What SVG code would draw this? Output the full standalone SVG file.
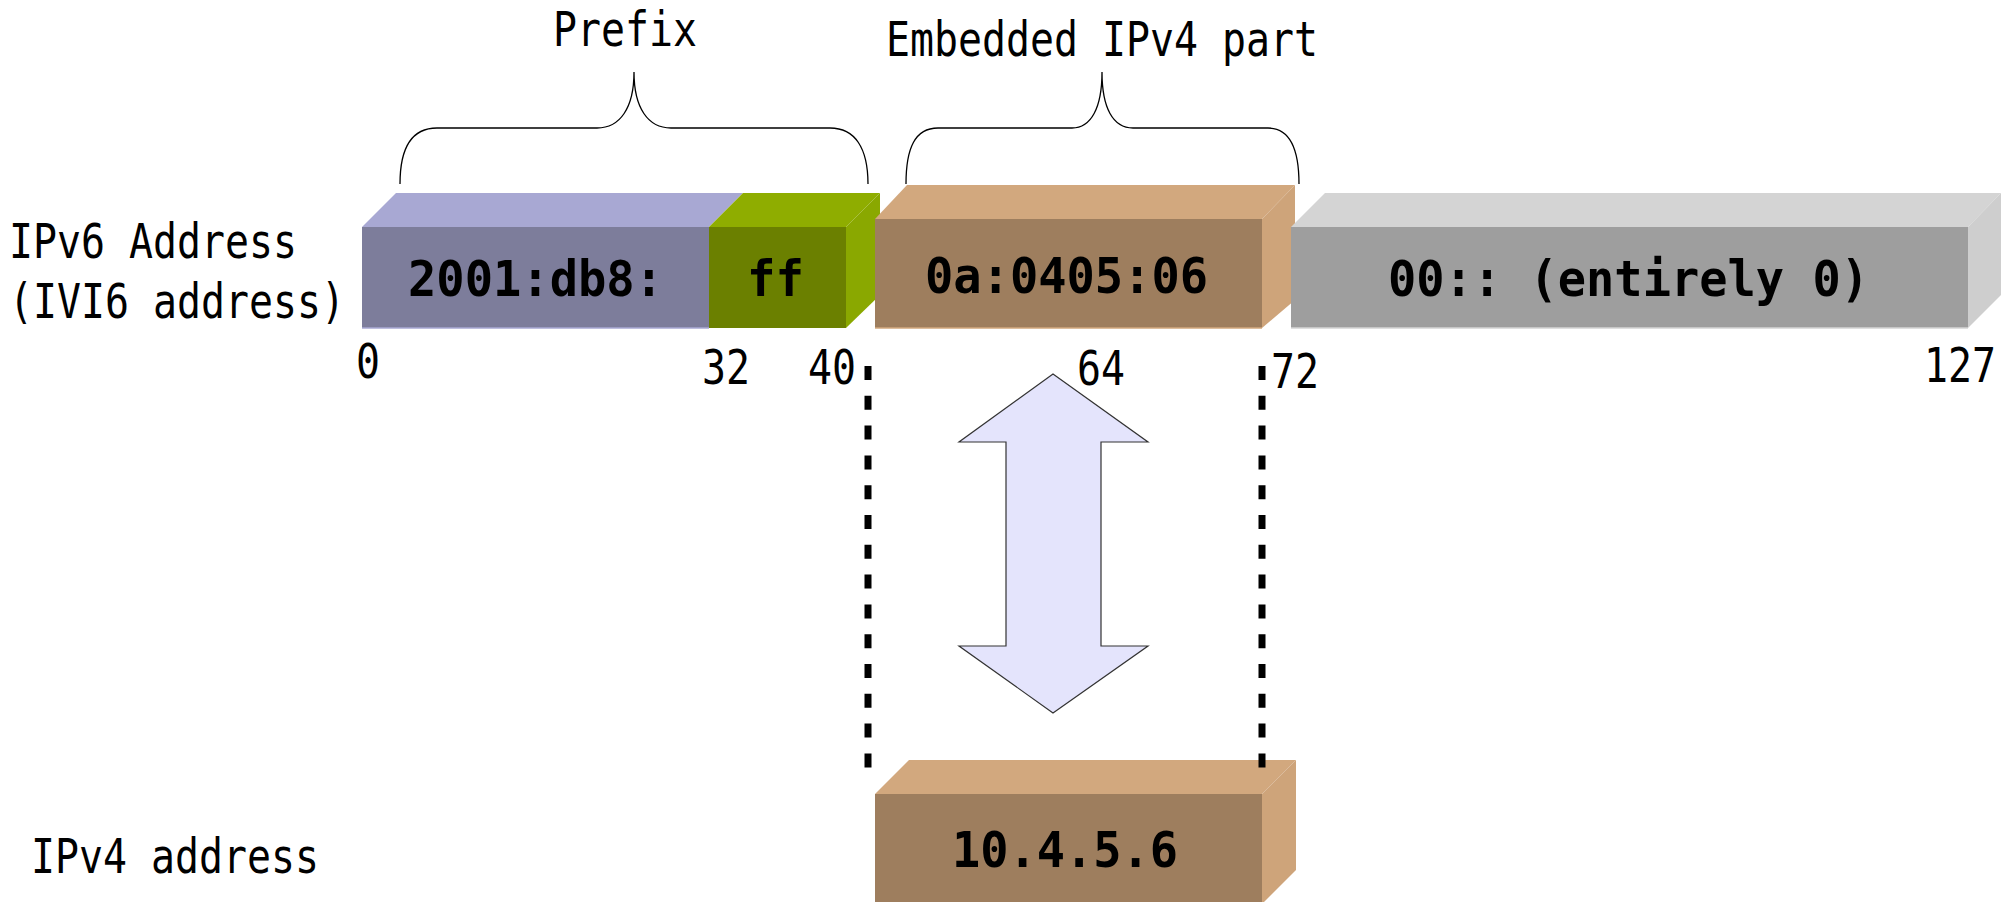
<svg xmlns="http://www.w3.org/2000/svg" width="2016" height="902" viewBox="0 0 2016 902">
  <style>
    .lbl { font-family: "DejaVu Sans Mono", "Liberation Mono", monospace; font-size: 48px; fill: #000; }
    .val { font-family: "DejaVu Sans Mono", "Liberation Mono", monospace; font-size: 50px; font-weight: bold; fill: #000; }
    .brace { fill: none; stroke: #000; stroke-width: 1.3; }
    .dash { stroke: #000; stroke-width: 7; stroke-dasharray: 14 15.8; fill: none; }
    .arrow { fill: #e4e4fc; stroke: #333; stroke-width: 1.2; stroke-linejoin: miter; }
    .pu-front { fill: #7d7d9b; } .pu-top { fill: #a8a8d3; }
    .gr-front { fill: #6b8000; } .gr-top { fill: #8fad00; } .gr-side { fill: #8aa800; }
    .br-front { fill: #9e7e5e; } .br-top { fill: #d2a87e; } .br-side { fill: #cea47a; }
    .gy-front { fill: #9e9e9e; } .gy-top { fill: #d4d4d4; } .gy-side { fill: #cecece; }
    .edge-pu { stroke: #a8a8d3; stroke-width: 1.5; }
    .edge-gy { stroke: #d4d4d4; stroke-width: 1.5; }
    .edge-br { stroke: #d2a87e; stroke-width: 1.5; }
  </style>
  <rect width="2016" height="902" fill="#fff"/>

  <!-- row labels -->
  <g id="label-ipv6">
    <text class="lbl" x="9" y="258" textLength="288" lengthAdjust="spacingAndGlyphs">IPv6 Address</text>
    <text class="lbl" x="9" y="318" textLength="336" lengthAdjust="spacingAndGlyphs">(IVI6 address)</text>
  </g>
  <g id="label-ipv4">
    <text class="lbl" x="31" y="873" textLength="288" lengthAdjust="spacingAndGlyphs">IPv4 address</text>
  </g>

  <!-- braces with captions -->
  <g id="prefix-brace">
    <path class="brace" d="M400,184 C400,148 412,128 437,128 L597,128 C620,128 634,108 634,72 C634,108 648,128 671,128 L830,128 C855,128 868,148 868,184"/>
    <text class="lbl" x="553" y="46" textLength="144" lengthAdjust="spacingAndGlyphs">Prefix</text>
  </g>
  <g id="embedded-brace">
    <path class="brace" d="M906,184 C906,148 915,128 938,128 L1072,128 C1091,128 1102,108 1102,72 C1102,108 1113,128 1133,128 L1268,128 C1290,128 1299,148 1299,184"/>
    <text class="lbl" x="886" y="56" textLength="432" lengthAdjust="spacingAndGlyphs">Embedded IPv4 part</text>
  </g>

  <!-- IPv6 address segments -->
  <g id="seg-prefix">
    <polygon class="pu-top" points="362,227 396,193 743,193 709,227"/>
    <rect class="pu-front" x="362" y="227" width="347" height="101"/>
    <line class="edge-pu" x1="362" y1="328" x2="709" y2="328"/>
    <text class="val" x="408" y="296" textLength="255" lengthAdjust="spacingAndGlyphs">2001:db8:</text>
  </g>
  <g id="seg-ff">
    <polygon class="gr-top" points="709,227 743,193 880,193 846,227"/>
    <polygon class="gr-side" points="846,227 880,193 880,295 846,328"/>
    <rect class="gr-front" x="709" y="227" width="137" height="101"/>
    <text class="val" x="747" y="296" textLength="57" lengthAdjust="spacingAndGlyphs">ff</text>
  </g>
  <g id="seg-embedded">
    <polygon class="br-top" points="875,219 907,185 1295,185 1262,219"/>
    <polygon class="br-side" points="1262,219 1295,185 1295,300 1262,328"/>
    <rect class="br-front" x="875" y="219" width="387" height="109"/>
    <line class="edge-br" x1="875" y1="328" x2="1262" y2="328"/>
    <text class="val" x="925" y="293" textLength="283" lengthAdjust="spacingAndGlyphs">0a:0405:06</text>
  </g>
  <g id="seg-suffix">
    <polygon class="gy-top" points="1291,227 1325,193 2001,193 1968,227"/>
    <polygon class="gy-side" points="1968,227 2001,193 2001,295 1968,328"/>
    <rect class="gy-front" x="1291" y="227" width="677" height="101"/>
    <line class="edge-gy" x1="1291" y1="328" x2="1968" y2="328"/>
    <text class="val" x="1388" y="296" textLength="481" lengthAdjust="spacingAndGlyphs">00:: (entirely 0)</text>
  </g>

  <!-- bit positions -->
  <g id="bit-marks">
    <text class="lbl" x="356" y="378" textLength="24" lengthAdjust="spacingAndGlyphs">0</text>
    <text class="lbl" x="702" y="384" textLength="48" lengthAdjust="spacingAndGlyphs">32</text>
    <text class="lbl" x="808" y="384" textLength="48" lengthAdjust="spacingAndGlyphs">40</text>
    <text class="lbl" x="1077" y="385" textLength="48" lengthAdjust="spacingAndGlyphs">64</text>
    <text class="lbl" x="1271" y="388" textLength="48" lengthAdjust="spacingAndGlyphs">72</text>
    <text class="lbl" x="1924" y="382" textLength="72" lengthAdjust="spacingAndGlyphs">127</text>
  </g>

  <!-- IPv4 address -->
  <g id="ipv4-box">
    <polygon class="br-top" points="875,794 909,760 1296,760 1262,794"/>
    <polygon class="br-side" points="1262,794 1296,760 1296,870 1262,904"/>
    <rect class="br-front" x="875" y="794" width="387" height="110"/>
    <text class="val" x="952" y="867" textLength="226" lengthAdjust="spacingAndGlyphs">10.4.5.6</text>
  </g>

  <!-- mapping between embedded part and IPv4 address -->
  <g id="connectors">
    <line class="dash" x1="868" y1="366" x2="868" y2="768"/>
    <line class="dash" x1="1262" y1="366" x2="1262" y2="768"/>
    <polygon class="arrow" points="1053,374 1148,442 1101,442 1101,646 1148,646 1053,713 959,646 1006,646 1006,442 959,442"/>
  </g>
</svg>
